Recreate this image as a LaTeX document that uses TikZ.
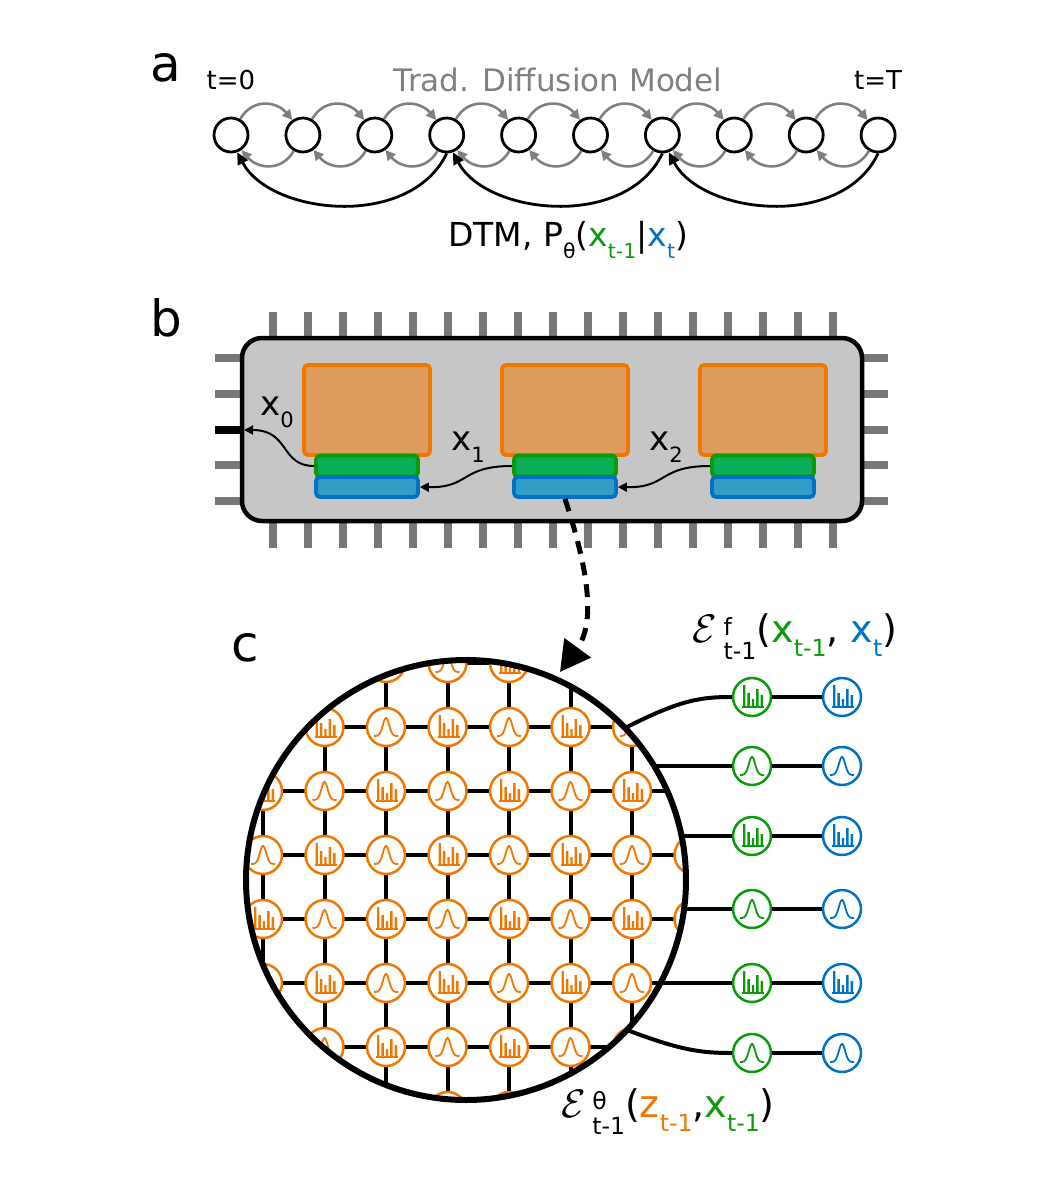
\documentclass[tikz,border=0pt]{standalone}
\usepackage{fontspec}
\setmainfont{DejaVu Sans}
\usetikzlibrary{arrows.meta}
\definecolor{gr}{HTML}{0A9A0A}
\definecolor{bl}{HTML}{0072C6}
\definecolor{org}{HTML}{F07800}
\definecolor{orgf}{HTML}{DE9D5D}
\definecolor{grf}{HTML}{0BAE57}
\definecolor{blf}{HTML}{339DC8}
\definecolor{chip}{HTML}{C6C6C6}
\definecolor{pingray}{HTML}{777777}
\newcommand\sbx[1]{\raisebox{-0.35em}{\scalebox{0.62}{#1}}}
\newcommand\calE[2]{\scalebox{1.6}{$\mathcal{E}$}\,\raisebox{-0.45em}{\scalebox{0.62}{\shortstack[l]{#1\\[0.25em]#2}}}}
\begin{document}
\begin{tikzpicture}[x=1pt,y=-1pt,
  st/.style={circle,draw,line width=2.8,minimum size=34,inner sep=0},
  ga/.style={draw=gray,line width=2.6,-{Triangle[length=10,width=10]}},
  ba/.style={line width=2.8,-{Triangle[length=12,width=11]}},
  pinl/.style={draw=pingray,line width=8},
  blk/.style={rounded corners=4,line width=3.8},
  ob/.style={blk,draw=org,fill=orgf},
  gb/.style={blk,draw=gr,fill=grf},
  bb/.style={blk,draw=bl,fill=blf},
  nd/.style={circle,draw=#1,fill=white,line width=2.5,minimum size=38,inner sep=0},
  edge/.style={line width=4},
  hist/.pic={\fill (-9,10) rectangle (-6.6,-12) (-4.6,10) rectangle (-2.2,-4) (-0.2,10) rectangle (2.2,2) (4.2,10) rectangle (6.6,-8) (8.6,10) rectangle (11,-2) ;\draw[line width=1.2] (-10,10)--(12,10);},
  gaus/.pic={\draw[line width=1.8] plot[domain=-12:12,samples=40,smooth] (\x,{9-18*exp(-\x*\x/20)});}
]
\useasboundingbox (0,0) rectangle (1044,1182);
% ---------- a
\node[font=\fontsize{50}{50}\selectfont] (la) at (166,68) {a};
\node[font=\fontsize{26}{26}\selectfont] (t0) at (231,80) {t=0};
\node[font=\fontsize{26}{26}\selectfont] (tT) at (878,80) {t=T};
\node[font=\fontsize{31}{31}\selectfont,text=gray] (tr) at (558,80) {Trad. Diffusion Model};
\foreach \i in {0,...,9} \node[st] (a\i) at (231+71.9*\i,135) {};
\foreach \i [evaluate=\i as \j using int(\i+1)] in {0,...,8} {
  \draw[ga] (a\i.60) to[out=60,in=130,looseness=1.2] (a\j.125);
  \draw[ga] (a\j.-120) to[out=-120,in=-50,looseness=1.2] (a\i.-55);
}
\draw[ba] (a3.-90) .. controls (410,230) and (270,215) .. (a0.-70);
\draw[ba] (a6.-90) .. controls (626,230) and (486,215) .. (a3.-70);
\draw[ba] (a9.-90) .. controls (842,230) and (702,215) .. (a6.-70);
\node[font=\fontsize{33}{33}\selectfont] (dtm) at (568,240) {DTM, P\sbx{θ}(\textcolor{gr}{x\sbx{t-1}}|\textcolor{bl}{x\sbx{t}})};
% ---------- b
\node[font=\fontsize{50}{50}\selectfont] (lb) at (166,318) {b};
\foreach \k in {0,...,16} {
  \draw[pinl] (273+35*\k,312) -- (273+35*\k,340);
  \draw[pinl] (273+35*\k,519) -- (273+35*\k,548);
}
\foreach \y in {358,394,465,501} {
  \draw[pinl] (215,\y) -- (244,\y);
  \draw[pinl] (860,\y) -- (888,\y);
}
\draw[pinl] (860,430) -- (888,430);
\node[draw,line width=4.5,fill=chip,rounded corners=20,minimum width=620,minimum height=183,inner sep=0] (chipn) at (552,429.5) {};
\coordinate (pinL) at (244,430);
\draw[line width=8] (215,430) -- (pinL);
\foreach \k in {0,1,2} {
  \path[ob] (304+198*\k,365) rectangle (430+198*\k,455);
  \node[gb,minimum width=102,minimum height=21,inner sep=0] (g\k) at (367+198*\k,466) {};
  \node[bb,minimum width=102,minimum height=20,inner sep=0] (b\k) at (367+198*\k,487) {};
}
\draw[line width=2,-{Triangle[length=9,width=9]}] (g0.west) .. controls (280,466) and (290,430) .. (pinL);
\draw[line width=2,-{Triangle[length=9,width=9]}] (g1.west) .. controls (460,466) and (470,488) .. (b0.east);
\draw[line width=2,-{Triangle[length=9,width=9]}] (g2.west) .. controls (658,466) and (668,488) .. (b1.east);
\node[font=\fontsize{34}{34}\selectfont] (x0) at (277,412) {x\sbx{0}};
\node[font=\fontsize{34}{34}\selectfont] (x1) at (468,447) {x\sbx{1}};
\node[font=\fontsize{34}{34}\selectfont] (x2) at (666,447) {x\sbx{2}};
% ---------- c
\node[font=\fontsize{50}{50}\selectfont] (lc) at (245,648) {c};
\coordinate (zoomend) at (560,672);
\draw[line width=5,dash pattern=on 13 off 9,-{Triangle[length=30,width=32]}] (b1.south) .. controls (585,560) and (598,620) .. (zoomend);
\node[circle,minimum size=440,inner sep=0] (big) at (466,880) {};
\begin{scope}
\clip (466,880) circle (220);
\foreach \c in {0,...,7} \foreach \r in {0,...,7} {
  \pgfmathtruncatemacro\cn{\c+1}\pgfmathtruncatemacro\rn{\r+1}
  \ifnum\c<7 \draw[edge] (263+61.5*\c,663+64*\r) -- (263+61.5*\cn,663+64*\r);\fi
  \ifnum\r<7 \draw[edge] (263+61.5*\c,663+64*\r) -- (263+61.5*\c,663+64*\rn);\fi
}
\foreach \c in {0,...,7} \foreach \r in {0,...,7} {
  \node[nd=org] (n\c-\r) at (263+61.5*\c,663+64*\r) {};
  \pgfmathtruncatemacro\pty{mod(\c+\r,2)}
  \ifnum\pty=0 \pic[org] at (n\c-\r) {hist};\else \pic[org] at (n\c-\r) {gaus};\fi
}
\end{scope}
\draw[line width=6] (466,880) circle (220);
% right side
\foreach \r/\y in {0/697,1/766,2/836,3/909,4/983,5/1053} {
  \node[nd=gr] (G\r) at (752,\y) {};
  \node[nd=bl] (B\r) at (842,\y) {};
  \draw[edge] (G\r) -- (B\r);
  \pgfmathtruncatemacro\pty{mod(\r,2)}
  \ifnum\pty=0 \pic[gr] at (G\r) {hist}; \pic[bl] at (B\r) {hist};
  \else \pic[gr] at (G\r) {gaus}; \pic[bl] at (B\r) {gaus};\fi
}
\path (big.center) ++(159,-152) coordinate (e0) (big.center) ++(188,-114) coordinate (e1)
  (big.center) ++(215.5,-44) coordinate (e2) (big.center) ++(218,29) coordinate (e3)
  (big.center) ++(194,103) coordinate (e4) (big.center) ++(161,150) coordinate (e5);
\draw[edge] (e0) .. controls (680,700) and (700,697) .. (G0.west);
\draw[edge] (e1) -- (G1.west);
\draw[edge] (e2) -- (G2.west);
\draw[edge] (e3) -- (G3.west);
\draw[edge] (e4) -- (G4.west);
\draw[edge] (e5) .. controls (680,1050) and (700,1053) .. (G5.west);
\node[font=\fontsize{38}{38}\selectfont] (ef) at (795,637) {\calE{f}{t-1}(\textcolor{gr}{x\sbx{t-1}}, \textcolor{bl}{x\sbx{t}})};
\node[font=\fontsize{38}{38}\selectfont] (et) at (668,1112) {\calE{θ}{t-1}(\textcolor{org}{z\sbx{t-1}},\textcolor{gr}{x\sbx{t-1}})};
\end{tikzpicture}
\end{document}
